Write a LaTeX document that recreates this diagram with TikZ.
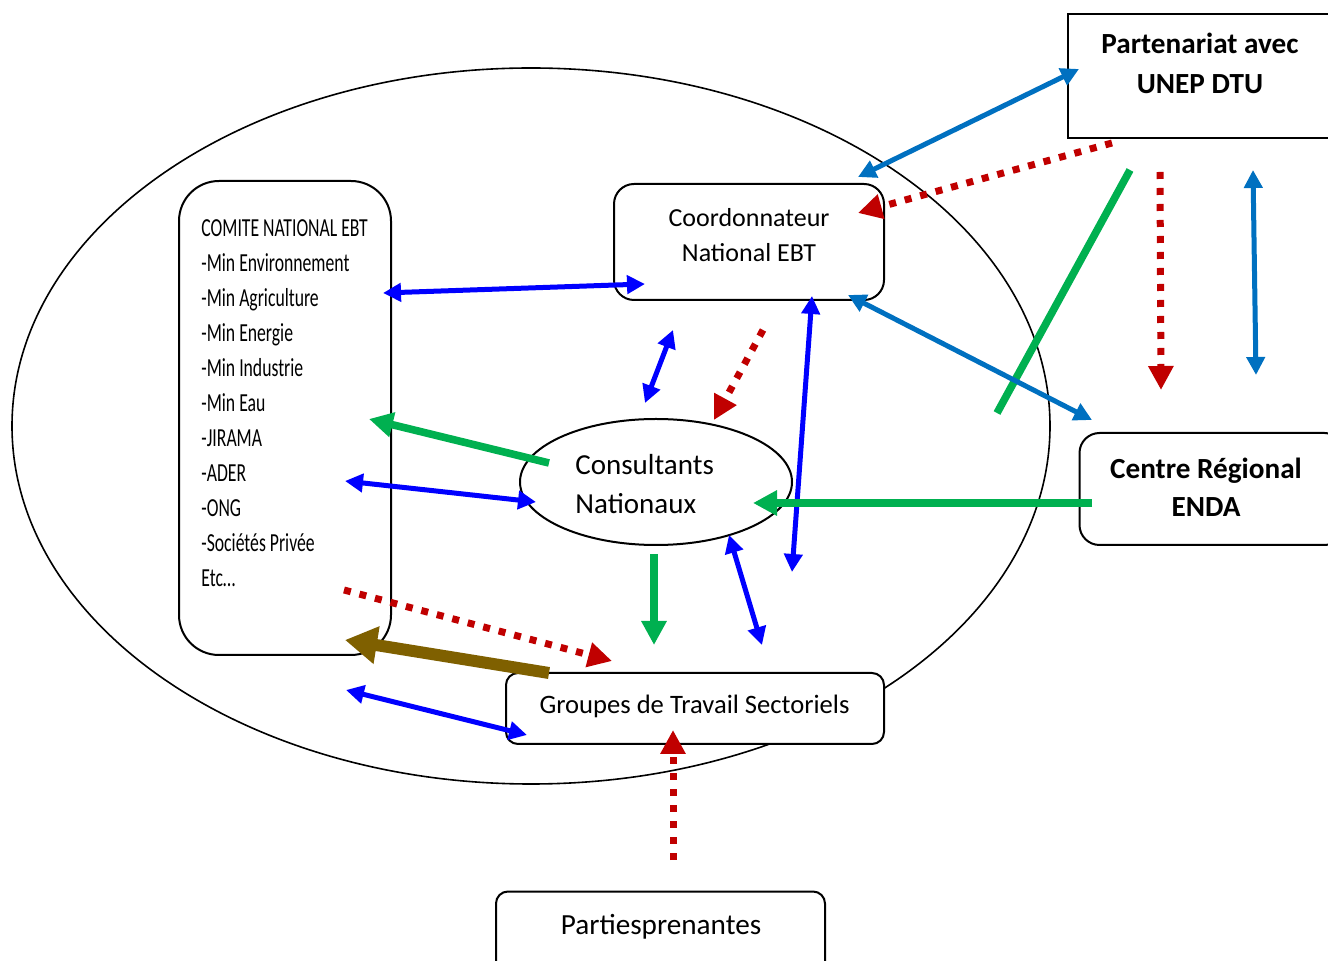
\documentclass[tikz,border=0pt]{standalone}
\usepackage{fontspec}
\setmainfont{Carlito}
\newfontfamily\condfont[FakeStretch=0.68]{Carlito}
\usetikzlibrary{arrows.meta,shapes.geometric}
\definecolor{cblue}{HTML}{0000FF}
\definecolor{sblue}{HTML}{0070C0}
\definecolor{cred}{HTML}{C00000}
\definecolor{cgreen}{HTML}{00B050}
\definecolor{cbrown}{HTML}{7F6000}
\tikzset{
  box/.style={draw=black, line width=1pt, fill=white, inner sep=0pt},
  txt/.style={anchor=base, inner sep=0pt, font=\fontsize{13}{15}\selectfont},
  btxt/.style={anchor=base, inner sep=0pt, font=\fontsize{14.6}{17}\selectfont\bfseries},
  ltxt/.style={anchor=base west, inner sep=0pt, font=\condfont\fontsize{13}{15}\selectfont},
  bluearr/.style={draw=cblue, line width=2.5pt, {Triangle[length=9pt,width=9pt]}-{Triangle[length=9pt,width=9pt]}},
  sbluearr/.style={draw=sblue, line width=2.5pt, {Triangle[length=9pt,width=9pt]}-{Triangle[length=9pt,width=9pt]}},
  greenarr/.style={draw=cgreen, line width=3.8pt, -{Triangle[length=12pt,width=12pt]}},
  greenline/.style={draw=cgreen, line width=3.8pt},
  redarr/.style={draw=cred, line width=3.5pt, dash pattern=on 3.5pt off 4.5pt, -{Triangle[length=12pt,width=12pt]}},
  brownarr/.style={draw=cbrown, line width=6pt, -{Triangle[length=16pt,width=18pt]}},
}
\begin{document}
\begin{tikzpicture}[x=0.5pt,y=-0.5pt]
\useasboundingbox (0,0) rectangle (1328,961);
% frame ellipse
\node[draw, ellipse, line width=0.8pt, minimum width=519pt, minimum height=358pt, inner sep=0pt] (cadre) at (531,426) {};
% boxes
\node[box, rounded corners=20pt, minimum width=106pt, minimum height=237pt] (comite) at (285,418) {};
\node[box, rounded corners=10pt, minimum width=135pt, minimum height=58pt] (coord) at (749,242) {};
\node[box, minimum width=136pt, minimum height=62pt] (part) at (1204,76) {};
\node[box, rounded corners=10pt, minimum width=132.5pt, minimum height=56pt] (centre) at (1212,489) {};
\node[box, ellipse, minimum width=136pt, minimum height=63pt] (cons) at (656,482) {};
\node[box, rounded corners=6pt, minimum width=189pt, minimum height=35.5pt] (groupes) at (695,708.5) {};
\node[box, rounded corners=6pt, minimum width=164.5pt, minimum height=41.5pt] (parties) at (660.5,933) {};
% texts
\foreach \t [count=\i from 0] in {COMITE NATIONAL EBT,-Min Environnement,-Min Agriculture,-Min Energie,-Min Industrie,-Min Eau,-JIRAMA,-ADER,-ONG,-Sociétés Privée,Etc\dots}
  \node[ltxt] (cl\i) at (201,237+35*\i) {\t};
\node[txt] (coordA) at (749,227) {Coordonnateur};
\node[txt] (coordB) at (749,262) {National EBT};
\node[btxt] (partA) at (1200,54) {Partenariat avec};
\node[btxt] (partB) at (1200,94) {UNEP DTU};
\node[btxt] (centreA) at (1206,479) {Centre Régional};
\node[btxt] (centreB) at (1206,517) {ENDA};
\node[txt, anchor=base west, font=\fontsize{14.5}{17}\selectfont] (consA) at (575,475) {Consultants};
\node[txt, anchor=base west, font=\fontsize{14.5}{17}\selectfont] (consB) at (575,514) {Nationaux};
\node[txt, font=\fontsize{13.3}{16}\selectfont] (grpT) at (694.5,714) {Groupes de Travail Sectoriels};
\node[txt, font=\fontsize{14.6}{17}\selectfont] (parT) at (661,934) {Partiesprenantes};
% connector end points
\coordinate (a1s) at (383,293);  \coordinate (a1e) at (645,284);
\coordinate (a2s) at (858,177);  \coordinate (a2e) at (1079,69);
\coordinate (a3s) at (1112,143); \coordinate (a3e) at (858,213);
\coordinate (a4s) at (1130,170); \coordinate (a4e) at (997,413);
\coordinate (a5s) at (1160,172); \coordinate (a5e) at (1161,390);
\coordinate (a6s) at (1253,170); \coordinate (a6e) at (1256,375);
\coordinate (a7s) at (848,295);  \coordinate (a7e) at (1092,420);
\coordinate (a8s) at (673,330);  \coordinate (a8e) at (645,403);
\coordinate (a9s) at (763,330);  \coordinate (a9e) at (714,420);
\coordinate (a10s) at (812,296); \coordinate (a10e) at (792,572);
\coordinate (a11s) at (549,463); \coordinate (a11e) at (369,419);
\coordinate (a12s) at (345,481); \coordinate (a12e) at (536,502);
\coordinate (a13s) at (1092,503); \coordinate (a13e) at (753,503);
\coordinate (a14s) at (654,554); \coordinate (a14e) at (654,645);
\coordinate (a15s) at (729,535); \coordinate (a15e) at (762,645);
\coordinate (a16s) at (344,590); \coordinate (a16e) at (612,661);
\coordinate (a17s) at (549,673); \coordinate (a17e) at (345,640);
\coordinate (a18s) at (346,690); \coordinate (a18e) at (527,735);
\coordinate (a19s) at (673,860); \coordinate (a19e) at (673,730);
% connectors
\draw[bluearr] (a1s) -- (a1e);
\draw[sbluearr] (a2s) -- (a2e);
\draw[redarr] (a3s) -- (a3e);
\draw[greenline] (a4s) -- (a4e);
\draw[redarr] (a5s) -- (a5e);
\draw[sbluearr] (a6s) -- (a6e);
\draw[sbluearr] (a7s) -- (a7e);
\draw[bluearr] (a8s) -- (a8e);
\draw[redarr] (a9s) -- (a9e);
\draw[bluearr] (a10s) -- (a10e);
\draw[greenarr] (a11s) -- (a11e);
\draw[bluearr] (a12s) -- (a12e);
\draw[greenarr] (a13s) -- (a13e);
\draw[greenarr] (a14s) -- (a14e);
\draw[bluearr] (a15s) -- (a15e);
\draw[redarr] (a16s) -- (a16e);
\draw[brownarr] (a17s) -- (a17e);
\draw[bluearr] (a18s) -- (a18e);
\draw[redarr] (a19s) -- (a19e);
\end{tikzpicture}
\end{document}
